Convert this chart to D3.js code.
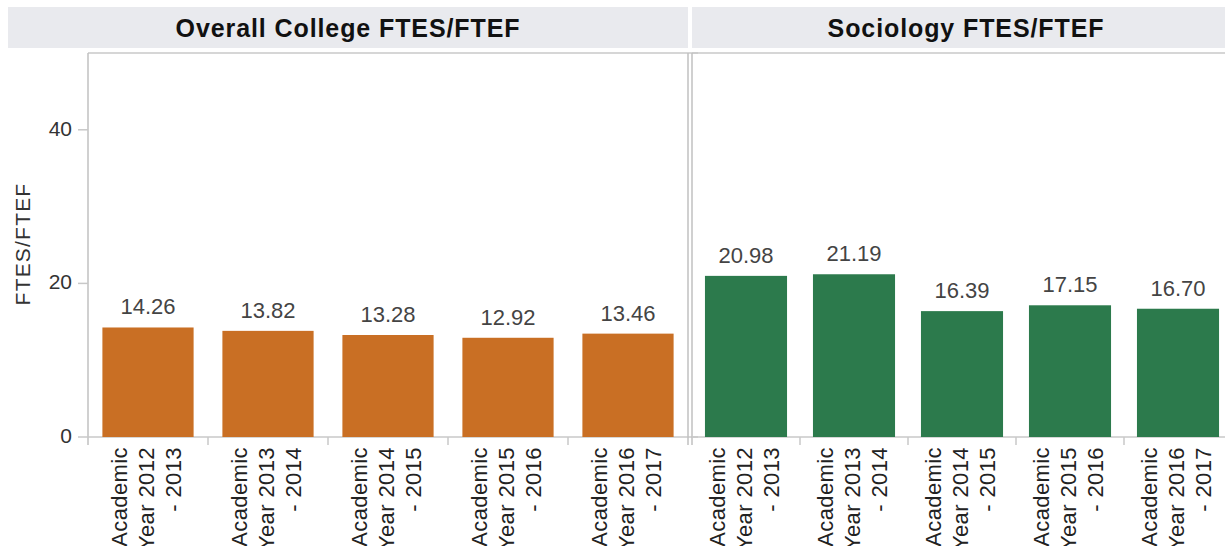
<!DOCTYPE html>
<html>
<head>
<meta charset="utf-8">
<script src="https://cdn.jsdelivr.net/npm/d3@7"></script>
<style>
  body { margin: 0; background: #fff; overflow: hidden; }
  text { font-family: Arial, "Liberation Sans", sans-serif; }
</style>
</head>
<body>
<script>
var years = ["2012 - 2013", "2013 - 2014", "2014 - 2015", "2015 - 2016", "2016 - 2017"];
var panelTitles = ["Overall College FTES/FTEF", "Sociology FTES/FTEF"];
var collegeValues = [14.26, 13.82, 13.28, 12.92, 13.46];
var sociologyValues = [20.98, 21.19, 16.39, 17.15, 16.70];
var yTicks = [0, 20, 40];

var width = 1225, height = 546;
var plotTop = 53, plotBottom = 437;

var svg = d3.select("body").append("svg")
    .attr("width", width)
    .attr("height", height);

var y = d3.scaleLinear().domain([0, 50]).range([plotBottom, plotTop]);

var panels = [
  {title: panelTitles[0], values: collegeValues, color: "#c96f24", x0: 88, x1: 688, hx0: 8, hx1: 688},
  {title: panelTitles[1], values: sociologyValues, color: "#2c7a4c", x0: 692, x1: 1232, hx0: 692, hx1: 1240}
];

panels.forEach(function(p) {
  var g = svg.append("g");

  // header strip
  g.append("rect")
    .attr("x", p.hx0).attr("y", 7)
    .attr("width", p.hx1 - p.hx0).attr("height", 41)
    .attr("fill", "#e9eaee");
  g.append("text")
    .attr("x", (p.hx0 + p.hx1) / 2).attr("y", 37)
    .attr("text-anchor", "middle")
    .attr("font-size", "25px").attr("font-weight", "bold")
    .attr("letter-spacing", "0.9px")
    .attr("fill", "#111")
    .text(p.title);

  var x = d3.scaleBand()
    .domain(years)
    .range([p.x0, p.x1])
    .paddingInner(0.24)
    .paddingOuter(0.12);

  // frame lines
  g.append("line")
    .attr("x1", p.x0).attr("x2", p.x1 + 10)
    .attr("y1", plotTop).attr("y2", plotTop)
    .attr("stroke", "#c8c8c8").attr("stroke-width", 1.5);
  g.append("line")
    .attr("x1", p.x0).attr("x2", p.x0)
    .attr("y1", plotTop).attr("y2", plotBottom + 8)
    .attr("stroke", "#c0c0c0").attr("stroke-width", 1.5);
  g.append("line")
    .attr("x1", p.x0).attr("x2", p.x1 + 10)
    .attr("y1", plotBottom).attr("y2", plotBottom)
    .attr("stroke", "#c8c8c8").attr("stroke-width", 1.5);

  // ticks between categories
  var step = x.step();
  years.slice(1).forEach(function(d) {
    var tx = x(d) - (step - x.bandwidth()) / 2;
    g.append("line")
      .attr("x1", tx).attr("x2", tx)
      .attr("y1", plotBottom).attr("y2", plotBottom + 8)
      .attr("stroke", "#c8c8c8").attr("stroke-width", 1.5);
  });

  g.selectAll(".bar")
    .data(p.values)
    .enter().append("rect")
      .attr("class", "bar")
      .attr("x", function(d, i) { return x(years[i]); })
      .attr("y", function(d) { return y(d); })
      .attr("width", x.bandwidth())
      .attr("height", function(d) { return plotBottom - y(d); })
      .attr("fill", p.color);

  g.selectAll(".val")
    .data(p.values)
    .enter().append("text")
      .attr("class", "val")
      .attr("x", function(d, i) { return x(years[i]) + x.bandwidth() / 2; })
      .attr("y", function(d) { return y(d) - 13; })
      .attr("text-anchor", "middle")
      .attr("font-size", "22px")
      .attr("fill", "#444")
      .text(function(d) { return d.toFixed(2); });

  // rotated category labels
  years.forEach(function(d) {
    var cx = x(d) + x.bandwidth() / 2;
    var lines = ["Academic", "Year " + d.split(" - ")[0], "- " + d.split(" - ")[1]];
    lines.forEach(function(t, j) {
      g.append("text")
        .attr("transform", "translate(" + (cx - 21 + j * 27) + "," + 447 + ")rotate(-90)")
        .attr("text-anchor", "end")
        .attr("font-size", "22px")
        .attr("letter-spacing", "0.4px")
        .attr("fill", "#222")
        .text(t);
    });
  });

  // closing border on the right of each panel
  g.append("line")
    .attr("x1", p.x1).attr("x2", p.x1)
    .attr("y1", plotTop).attr("y2", plotBottom + 8)
    .attr("stroke", "#c0c0c0").attr("stroke-width", 1.5);
});

// y axis labels
var ax = svg.append("g");
yTicks.forEach(function(t) {
  ax.append("line")
    .attr("x1", 78).attr("x2", 88)
    .attr("y1", y(t)).attr("y2", y(t))
    .attr("stroke", "#c8c8c8").attr("stroke-width", 1.5);
  ax.append("text")
    .attr("x", 72).attr("y", y(t))
    .attr("dy", "0.28em")
    .attr("text-anchor", "end")
    .attr("font-size", "21px")
    .attr("fill", "#333")
    .text(t);
});

ax.append("text")
  .attr("transform", "translate(30,244)rotate(-90)")
  .attr("text-anchor", "middle")
  .attr("font-size", "21px")
  .attr("letter-spacing", "1.2px")
  .attr("fill", "#333")
  .text("FTES/FTEF");
</script>
</body>
</html>
